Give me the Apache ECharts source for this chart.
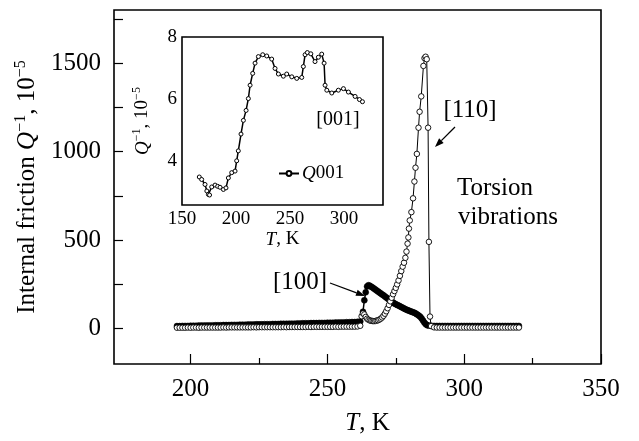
<!DOCTYPE html>
<html><head><meta charset="utf-8">
<script src="https://cdn.jsdelivr.net/npm/echarts@6/dist/echarts.min.js"></script>
<style>html,body{margin:0;padding:0;background:#fff}#c{width:639px;height:441px}</style>
</head><body><div id="c"></div>
<script>
// ---- tick values ----
const mainXLabels = [200, 250, 300, 350];
const mainXMinor = [225, 275, 325];
const mainYLabels = [0, 500, 1000, 1500];
const mainYTicks = [0, 250, 500, 750, 1000, 1250, 1500, 1750];
const insetXLabels = [150, 200, 250, 300];
const insetXTicks = [150, 175, 200, 225, 250, 275, 300, 325];
const insetYLabels = [4, 6, 8];
const insetYTicks = [3, 4, 5, 6, 7, 8];

// ---- [110] open circles (T, Q^-1 x1e-5) ----
const series110 = [
[195,5],[196,5],[197,5],[198,5],[199,6],[200,5],[201,6],[202,6],[203,5],[204,6],[205,6],[206,6],[207,6],[208,6],[209,6],[210,6],[211,6],[212,7],[213,6],[214,7],[215,7],[216,7],[217,7],[218,7],[219,7],[220,7],[221,7],[222,7],[223,8],[224,7],[225,8],[226,8],[227,8],[228,8],[229,8],[230,8],[231,8],[232,8],[233,8],[234,9],[235,8],[236,9],[237,9],[238,9],[239,9],[240,9],[241,9],[242,9],[243,10],[244,9],[245,10],[246,10],[247,10],[248,10],[249,10],[250,10],[251,10],[252,10],[253,11],[254,10],[255,11],[256,11],[257,11],[258,11],[259,11],[260,11],[261,12],
[262,16],[262.5,70],[263,86],[263.5,80],[264,66],[264.5,56],[265,50],[265.5,46],[266,44],[266.5,43],[267,42],[267.5,43],[268,45],[268.5,47],[269,51],[269.5,56],[270,63],[270.5,72],[271,84],[271.5,98],[272,115],[272.5,134],[273,154],[273.5,174],[274,194],[274.5,212],[275,230],[275.5,250],[276,272],[276.5,298],[277,325],[277.5,350],[278,372],[278.5,400],[278.9,435],[279.3,480],[279.6,515],[279.8,565],[280.1,611],[280.7,658],[281.3,736],[281.8,831],[282.2,909],[282.7,987],[283.3,1135],[283.7,1225],[284.3,1312],[285.1,1484],[285.5,1528],[285.9,1536],[286.3,1522],[286.8,1135],[287.1,490],[287.5,68],[287.9,14],
[289,7],[290,6],[291,6],[292,6],[293,6],[294,6],[295,6],[296,6],[297,6],[298,6],[299,6],[300,6],[301,6],[302,6],[303,6],[304,6],[305,6],[306,6],[307,6],[308,6],[309,6],[310,6],[311,6],[312,6],[313,6],[314,6],[315,6],[316,6],[317,6],[318,6],[319,6],[320,6]
];

// ---- [100] filled circles ----
const series100 = [
[195,14],[196,14],[197,15],[198,15],[199,15],[200,16],[201,16],[202,16],[203,17],[204,17],[205,17],[206,18],[207,18],[208,18],[209,19],[210,19],[211,19],[212,20],[213,20],[214,20],[215,21],[216,21],[217,21],[218,22],[219,22],[220,22],[221,23],[222,23],[223,23],[224,24],[225,24],[226,24],[227,25],[228,25],[229,25],[230,26],[231,26],[232,26],[233,27],[234,27],[235,27],[236,28],[237,28],[238,28],[239,29],[240,29],[241,30],[242,30],[243,30],[244,31],[245,31],[246,31],[247,32],[248,32],[249,32],[250,33],[251,33],[252,33],[253,34],[254,34],[255,35],[256,35],[257,36],[258,36],[259,37],[260,37],[261,38],[262,40],
[263,95],[263.5,160],[264,205],[264.5,238],[265,245],[265.5,242],[266,237],[266.5,232],[267,226],[267.5,221],[268,215],[268.5,210],[269,204],[269.5,199],[270,193],[270.5,188],[271,182],[271.5,176],[272,170],[272.5,164],[273,158],[273.5,152],[274,147],[274.5,142],[275,138],[275.5,134],[276,130],[276.5,126],[277,122],[277.5,118],[278,114],[278.5,110],[279,106],[279.5,103],[280,100],[280.5,97],[281,94],[281.5,91],[282,88],[282.5,83],[283,78],[283.5,72],[284,66],[284.5,56],[285,44],[285.5,33],[286,24],[286.5,19],
[287,17],[288,16],[289,15],[290,15],[291,15],[292,15],[293,15],[294,15],[295,15],[296,15],[297,15],[298,15],[299,15],[300,15],[301,15],[302,15],[303,15],[304,15],[305,15],[306,15],[307,15],[308,15],[309,15],[310,15],[311,15],[312,15],[313,15],[314,15],[315,15],[316,15],[317,15],[318,15],[319,15],[320,15]
];

// ---- inset: Q001 ----
const seriesQ001 = [
[166,3.50],[168.2,3.42],[171.3,3.26],[173,3.05],[174.4,2.94],[175.5,2.92],[177.5,3.18],[180.6,3.24],[183,3.20],[185.2,3.17],[188.3,3.10],[190.7,3.15],[192.9,3.47],[196,3.64],[199.1,3.69],[200.6,4.02],[202.1,4.34],[204.6,4.88],[206.8,5.32],[209.3,5.64],[211.4,6.02],[213,6.45],[215.4,6.83],[217.6,7.16],[220.7,7.37],[224.7,7.43],[228.4,7.39],[233,7.29],[236.1,6.99],[239.2,6.81],[243.8,6.74],[246.9,6.81],[251.6,6.72],[256.2,6.67],[260.8,6.70],[262.3,7.05],[263.9,7.43],[266,7.50],[269.2,7.46],[273.1,7.21],[276.2,7.35],[279.3,7.45],[281.5,7.16],[282.4,6.45],[284,6.29],[288.6,6.20],[294.7,6.29],[299.4,6.34],[304,6.23],[310.2,6.09],[314.2,5.99],[317,5.92]
];

const F = 'Liberation Serif';
const BIG = 25, SMALL = 19;
function richFor(size) {
  return {
    n: {fontSize: size, fontFamily: F, color: '#000', lineHeight: size + 4},
    i: {fontSize: size, fontFamily: F, color: '#000', fontStyle: 'italic', lineHeight: size + 4},
    s: {fontSize: Math.round(size * 0.64), fontFamily: F, color: '#000', verticalAlign: 'top', lineHeight: Math.round(size * 0.7)}
  };
}
function arrow(x1, y1, x2, y2) {
  const dx = x2 - x1, dy = y2 - y1, L = Math.hypot(dx, dy);
  const ux = dx / L, uy = dy / L, hl = 9, hw = 3.2;
  const bx = x2 - ux * hl, by = y2 - uy * hl;
  return [
    {type: 'line', shape: {x1, y1, x2: bx, y2: by}, style: {stroke: '#000', lineWidth: 1.3}},
    {type: 'polygon', shape: {points: [[x2, y2], [bx - uy * hw, by + ux * hw], [bx + uy * hw, by - ux * hw]]}, style: {fill: '#000'}}
  ];
}
function txt(x, y, text, size, align) {
  return {type: 'text', x, y, style: {text, font: size + 'px "' + F + '"', fill: '#000', align: align || 'center', verticalAlign: 'middle'}};
}
const plain = v => String(v);
const noLine = {show: false, onZero: false};

const tickStyle = {color: '#000', width: 1.2};
const chart = echarts.init(document.getElementById('c'));
chart.setOption({
  animation: false,
  backgroundColor: '#fff',
  grid: [
    {left: 114, top: 10, right: 38, bottom: 72, show: true, borderColor: '#000', borderWidth: 1.6, backgroundColor: 'transparent'},
    {left: 182, top: 37, right: 256, bottom: 236, show: true, borderColor: '#000', borderWidth: 1.6, backgroundColor: '#fff', z: 5}
  ],
  legend: {
    data: ['Q001'], left: 273, top: 159, itemWidth: 20, itemHeight: 6, itemGap: 0,
    formatter: () => '{i|Q}{n|001}',
    textStyle: {rich: richFor(SMALL), padding: [0, 0, 0, -2]}, z: 10
  },
  xAxis: [
    {gridIndex: 0, type: 'value', min: 172, max: 350, position: 'bottom', axisLine: noLine, splitLine: {show: false},
     axisTick: {inside: true, length: 10, customValues: mainXLabels, lineStyle: tickStyle},
     axisLabel: {customValues: mainXLabels, formatter: plain, margin: 13, fontSize: BIG, fontFamily: F, color: '#000', showMaxLabel: true, showMinLabel: true},
     name: '{i|T}{n|, K}', nameLocation: 'middle', nameGap: 45,
     nameTextStyle: {rich: richFor(BIG), padding: [0, 0, 0, 20]}},
    {gridIndex: 0, type: 'value', min: 172, max: 350, position: 'bottom', axisLine: noLine, splitLine: {show: false},
     axisTick: {inside: true, length: 6, customValues: mainXMinor, lineStyle: tickStyle},
     axisLabel: {show: false}},
    {gridIndex: 1, type: 'value', min: 150, max: 336, position: 'bottom', axisLine: noLine, splitLine: {show: false},
     axisTick: {inside: true, length: 5, customValues: insetXTicks, lineStyle: tickStyle},
     axisLabel: {customValues: insetXLabels, formatter: plain, margin: 5, fontSize: SMALL, fontFamily: F, color: '#000', showMinLabel: true},
     name: '{i|T}{n|, K}', nameLocation: 'middle', nameGap: 23,
     nameTextStyle: {rich: richFor(SMALL)}}
  ],
  yAxis: [
    {gridIndex: 0, type: 'value', min: -200, max: 1800, position: 'left', axisLine: noLine, splitLine: {show: false},
     axisTick: {inside: true, length: 9, customValues: mainYTicks, lineStyle: tickStyle},
     axisLabel: {customValues: mainYLabels, formatter: plain, margin: 13, fontSize: BIG, fontFamily: F, color: '#000'},
     name: '{n|Internal friction }{i|Q}{s|−1}{n|, 10}{s|−5}', nameLocation: 'middle', nameGap: 62,
     nameTextStyle: {rich: richFor(BIG)}},
    {gridIndex: 1, type: 'value', min: 2.6, max: 8, position: 'left', axisLine: noLine, splitLine: {show: false},
     axisTick: {inside: true, length: 5, customValues: insetYTicks, lineStyle: tickStyle},
     axisLabel: {customValues: insetYLabels, formatter: plain, margin: 5, fontSize: SMALL, fontFamily: F, color: '#000', showMaxLabel: true},
     name: '{i|Q}{s|−1}{n|, 10}{s|−5}', nameLocation: 'middle', nameGap: 28,
     nameTextStyle: {rich: richFor(SMALL)}}
  ],
  series: [
    {name: '[100]', type: 'line', xAxisIndex: 0, yAxisIndex: 0, data: series100, z: 2,
     symbol: 'circle', symbolSize: 6, showAllSymbol: true,
     itemStyle: {color: '#000', borderColor: '#000', borderWidth: 0.5},
     lineStyle: {color: '#000', width: 1.5}},
    {name: '[110]', type: 'line', xAxisIndex: 0, yAxisIndex: 0, data: series110, z: 3,
     symbol: 'circle', symbolSize: 5.5, showAllSymbol: true,
     itemStyle: {color: '#fff', borderColor: '#000', borderWidth: 0.9},
     lineStyle: {color: '#000', width: 1}},
    {name: 'Q001', type: 'line', xAxisIndex: 2, yAxisIndex: 1, data: seriesQ001, z: 6,
     symbol: 'circle', symbolSize: 4, showAllSymbol: true,
     itemStyle: {color: '#fff', borderColor: '#000', borderWidth: 1},
     lineStyle: {color: '#000', width: 1.5}}
  ],
  graphic: [
    txt(470, 110, '[110]', BIG),
    ...arrow(455, 127, 435, 147),
    txt(457, 188, 'Torsion', BIG, 'left'),
    txt(458, 217, 'vibrations', BIG, 'left'),
    txt(300, 282, '[100]', BIG),
    ...arrow(330, 283, 365, 296),
    Object.assign(txt(338, 120, '[001]', 20), {z: 20})
  ]
});
</script></body></html>
